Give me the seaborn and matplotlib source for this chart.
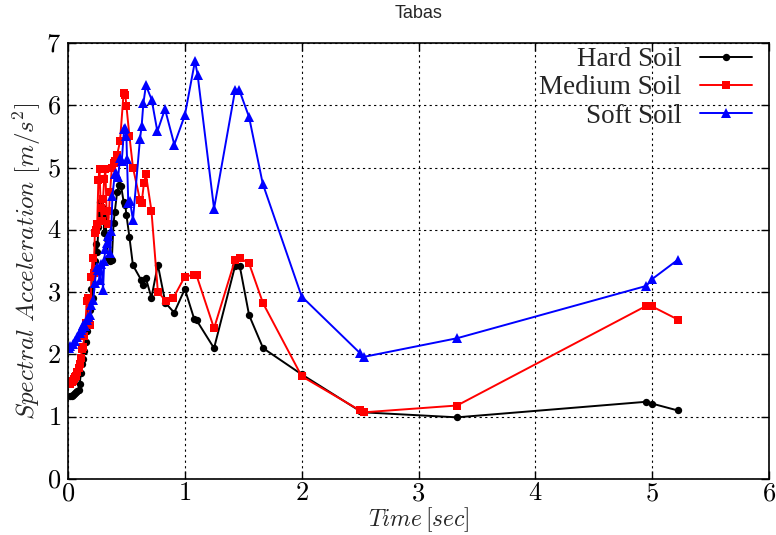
import matplotlib
matplotlib.use("Agg")
import matplotlib.pyplot as plt
import seaborn as sns
import pandas as pd
from matplotlib.ticker import FuncFormatter

# ---------------- data ----------------
hard_x = [0.02, 0.03, 0.04, 0.05, 0.06, 0.07, 0.08, 0.09, 0.10, 0.11, 0.12, 0.13, 0.14, 0.15,
          0.16, 0.17, 0.18, 0.19, 0.20, 0.21, 0.22, 0.23, 0.24, 0.25, 0.26, 0.27, 0.28, 0.29,
          0.30, 0.31, 0.32, 0.33, 0.345, 0.36, 0.375, 0.39, 0.40, 0.42, 0.435, 0.455, 0.476,
          0.49, 0.50, 0.526, 0.556, 0.625, 0.645, 0.667, 0.714, 0.769, 0.833, 0.909, 1.0,
          1.08, 1.1, 1.25, 1.43, 1.47, 1.55, 1.67, 2.0, 2.5, 2.53, 3.33, 4.95, 5.0, 5.22]
hard_y = [1.33, 1.34, 1.35, 1.36, 1.38, 1.39, 1.41, 1.43, 1.52, 1.70, 1.85, 1.92, 2.05, 2.20,
          2.38, 2.55, 2.78, 2.72, 3.05, 2.90, 3.30, 3.50, 3.77, 3.65, 4.05, 4.45, 4.25, 4.50,
          4.35, 3.95, 4.20, 3.85, 3.55, 3.50, 3.52, 4.11, 4.28, 4.60, 4.72, 4.70, 4.45,
          4.40, 4.24, 3.88, 3.43, 3.20, 3.12, 3.22, 2.91, 3.44, 2.83, 2.67, 3.05,
          2.57, 2.55, 2.10, 3.42, 3.42, 2.63, 2.10, 1.68, 1.09, 1.07, 0.99, 1.24, 1.21, 1.10]

medium_x = [0.02, 0.03, 0.04, 0.05, 0.06, 0.07, 0.08, 0.09, 0.10, 0.11, 0.12, 0.13, 0.14, 0.15,
            0.16, 0.17, 0.18, 0.19, 0.20, 0.21, 0.22, 0.23, 0.24, 0.25, 0.26, 0.27, 0.28, 0.29,
            0.30, 0.31, 0.32, 0.33, 0.345, 0.36, 0.375, 0.39, 0.40, 0.42, 0.445, 0.476, 0.49,
            0.50, 0.526, 0.556, 0.616, 0.63, 0.65, 0.667, 0.714, 0.769, 0.84, 0.90, 1.0,
            1.08, 1.1, 1.25, 1.43, 1.47, 1.55, 1.67, 2.0, 2.5, 2.53, 3.33, 4.95, 5.0, 5.22]
medium_y = [1.52, 1.55, 1.58, 1.60, 1.63, 1.66, 1.72, 1.78, 1.85, 1.95, 2.08, 2.12, 2.30, 2.50,
            2.85, 2.90, 2.55, 2.48, 3.25, 3.55, 3.30, 3.95, 4.00, 4.10, 4.80, 4.97, 4.35, 4.15,
            4.50, 4.82, 4.97, 4.30, 4.10, 4.60, 5.00, 5.07, 5.10, 5.20, 5.42, 6.20, 6.17,
            5.99, 5.50, 5.00, 4.48, 4.43, 4.75, 4.89, 4.31, 3.01, 2.85, 2.90, 3.25,
            3.28, 3.27, 2.42, 3.52, 3.55, 3.46, 2.82, 1.65, 1.10, 1.07, 1.18, 2.78, 2.77, 2.56]

soft_x = [0.005, 0.02, 0.04, 0.06, 0.08, 0.10, 0.11, 0.12, 0.13, 0.145, 0.16, 0.17, 0.19, 0.20,
          0.217, 0.23, 0.245, 0.26, 0.27, 0.285, 0.30, 0.31, 0.32, 0.33, 0.345, 0.36, 0.37,
          0.38, 0.40, 0.41, 0.43, 0.445, 0.46, 0.48, 0.49, 0.50, 0.505, 0.516, 0.53, 0.556,
          0.616, 0.63, 0.645, 0.667, 0.716, 0.765, 0.83, 0.91, 1.0, 1.087, 1.11, 1.25,
          1.43, 1.467, 1.55, 1.667, 2.0, 2.5, 2.53, 3.33, 4.95, 5.0, 5.22]
soft_y = [2.10, 2.13, 2.17, 2.22, 2.28, 2.35, 2.40, 2.42, 2.48, 2.45, 2.55, 2.60, 2.64, 2.80,
          2.88, 3.15, 3.41, 3.36, 3.20, 3.45, 3.04, 3.50, 3.70, 3.79, 3.90, 3.63, 3.98,
          4.54, 4.89, 4.91, 4.85, 5.16, 5.10, 5.62, 5.64, 5.50, 5.13, 4.43, 4.46, 4.16,
          5.46, 5.66, 6.03, 6.32, 6.09, 5.58, 5.94, 5.37, 5.84, 6.71, 6.48, 4.34,
          6.24, 6.24, 5.81, 4.74, 2.93, 2.02, 1.96, 2.26, 3.10, 3.21, 3.52]

series_names = ["Hard Soil", "Medium Soil", "Soft Soil"]
series_colors = ["black", "red", "blue"]

x_ticks = [0, 1, 2, 3, 4, 5, 6]
y_ticks = [0, 1, 2, 3, 4, 5, 6, 7]

# ---------------- style ----------------
sns.set_style("ticks")
plt.rcParams["font.family"] = ["Liberation Serif", "DejaVu Serif"]
plt.rcParams["mathtext.fontset"] = "cm"

fig = plt.figure(figsize=(7.76, 5.35), dpi=100)
ax = fig.add_axes([68 / 776, 56 / 535, 701 / 776, 436 / 535])

frames = [
    pd.DataFrame({"x": hard_x, "y": hard_y}),
    pd.DataFrame({"x": medium_x, "y": medium_y}),
    pd.DataFrame({"x": soft_x, "y": soft_y}),
]
markers = ["o", "s", "^"]
msizes = [5.3, 6.3, 7.0]

for df, name, col, mk, ms in zip(frames, series_names, series_colors, markers, msizes):
    sns.lineplot(data=df, x="x", y="y", ax=ax, color=col, marker=mk, markersize=ms,
                 markeredgewidth=0, linewidth=1.4, label=name, estimator=None, sort=False)

ax.set_xlim(0, 6)
ax.set_ylim(0, 7)
ax.set_xticks(x_ticks)
ax.set_yticks(y_ticks)
fmt = FuncFormatter(lambda v, p: f"${int(round(v))}$")
ax.xaxis.set_major_formatter(fmt)
ax.yaxis.set_major_formatter(fmt)
ax.tick_params(direction="in", top=True, right=True, length=6, width=1.0,
               labelsize=19, colors="black")
ax.tick_params(axis="x", pad=3)
ax.tick_params(axis="y", pad=5)
ax.grid(True, color="black", linestyle=(0, (2, 3)), linewidth=0.8)
for s in ax.spines.values():
    s.set_color("black")
    s.set_linewidth(1.2)

ax.set_xlabel(r"$Time\,[sec]$", fontsize=17, labelpad=0)
ax.set_ylabel(r"$Spectral\ Acceleration\ [m/s^2]$", fontsize=18, labelpad=2)
ax.set_title("Tabas", fontfamily=["Liberation Sans", "DejaVu Sans"], fontsize=13, pad=18)

ax.legend(loc="upper right", bbox_to_anchor=(1 - 13 / 701, 1.0), frameon=False,
          markerfirst=False, fontsize=19.5, handlelength=1.9, labelspacing=0.12,
          borderaxespad=0.05, handletextpad=0.7, borderpad=0.1)

fig.savefig("out.png", dpi=100)
